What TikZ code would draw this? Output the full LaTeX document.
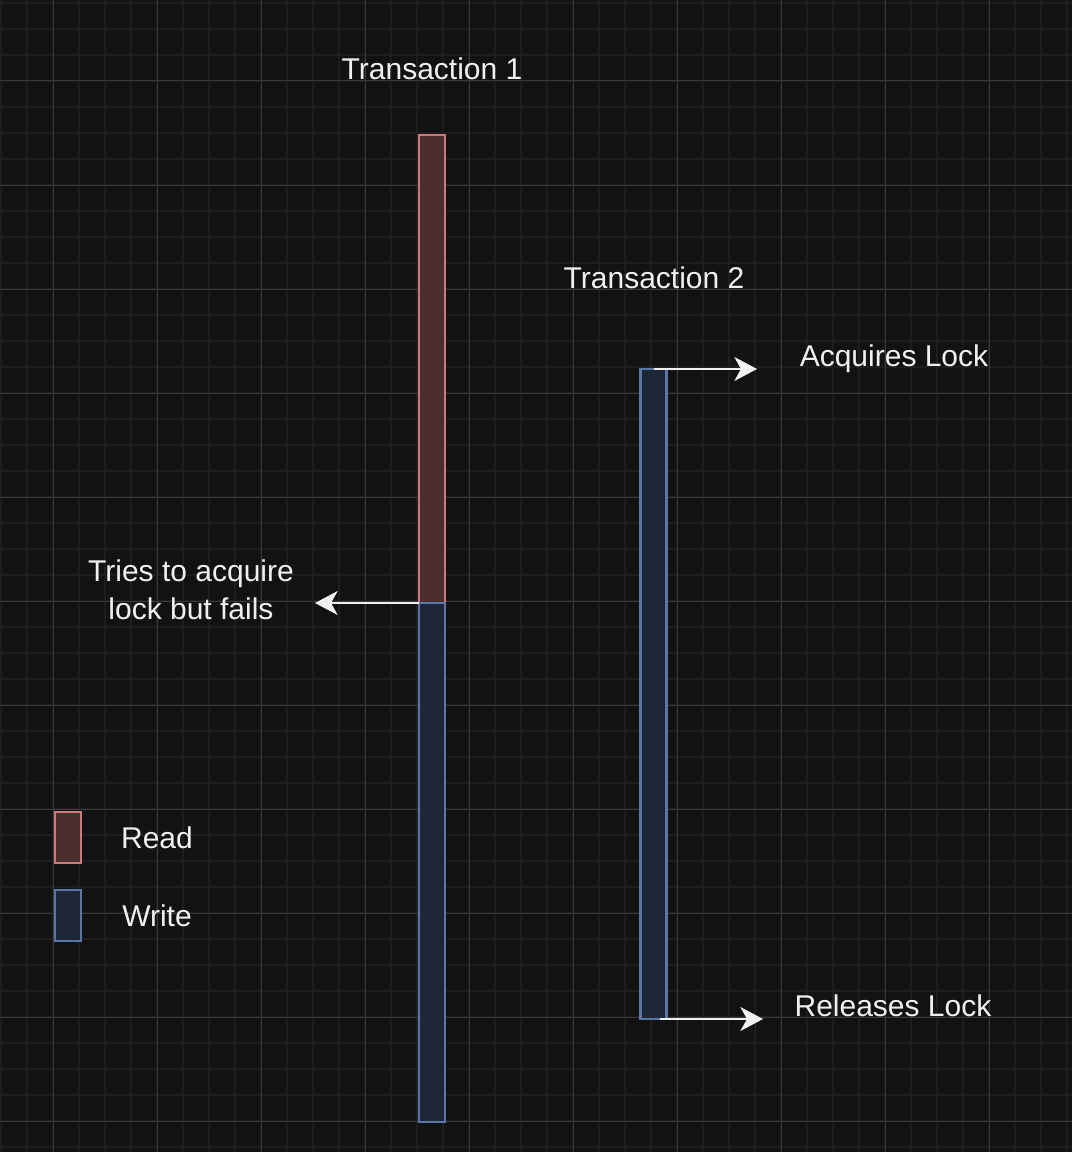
\documentclass[tikz,border=0pt]{standalone}
\usepackage{fontspec}
\setmainfont{Liberation Sans}
\usetikzlibrary{arrows.meta}
\definecolor{bgc}{HTML}{121212}
\definecolor{minorc}{HTML}{1D1D1D}
\definecolor{majorc}{HTML}{393939}
\definecolor{readfill}{HTML}{4B2E2E}
\definecolor{readline}{HTML}{C97B7A}
\definecolor{writefill}{HTML}{1E2639}
\definecolor{writeline}{HTML}{5B77A6}
\definecolor{txt}{HTML}{F0F0F0}
\tikzset{
  bar/.style={rectangle, inner sep=0pt, outer sep=0pt, line width=1.6pt, minimum width=19.5pt},
  readbar/.style={bar, draw=readline, fill=readfill},
  writebar/.style={bar, draw=writeline, fill=writefill},
  lbl/.style={text=txt, inner sep=0pt, font=\fontsize{22.5}{28.5}\selectfont},
  arr/.style={draw=txt, line width=1.5pt, -{Stealth[length=17pt, width=18pt, inset=5pt]}},
}
\begin{document}
\begin{tikzpicture}[x=0.75pt, y=-0.75pt]
\fill[bgc] (0,0) rectangle (1072,1152);
\useasboundingbox (0,0) rectangle (1072,1152);
% grid
\foreach \k in {0,...,41} \draw[minorc, line width=1.2pt] ({1+26*\k},0) -- ({1+26*\k},1152);
\foreach \k in {0,...,44} \draw[minorc, line width=1.2pt] (0,{3+26*\k}) -- (1072,{3+26*\k});
\foreach \k in {0,...,9} \draw[majorc, line width=0.75pt] ({53+104*\k},0) -- ({53+104*\k},1152);
\foreach \k in {0,...,10} \draw[majorc, line width=0.75pt] (0,{81+104*\k}) -- (1072,{81+104*\k});
% bars
\node[readbar, minimum height=351pt] (t1r) at (432,369) {};
\node[writebar, minimum height=389.25pt] (t1w) at (432,862.5) {};
\node[writebar, minimum height=487.5pt] (t2) at (653.5,694) {};
% legend
\node[readbar, minimum height=38.25pt] (legr) at (68,837.5) {};
\node[writebar, minimum height=38.25pt] (legw) at (68,915.5) {};
% labels
\node[lbl, anchor=base] (tx1) at (432,80) {Transaction 1};
\node[lbl, anchor=base] (tx2) at (654,288) {Transaction 2};
\node[lbl, anchor=base] (acq) at (894,366) {Acquires Lock};
\node[lbl, anchor=base] (rel) at (893,1016) {Releases Lock};
\node[lbl, align=center] (tries) at (191,590) {Tries to acquire\\lock but fails};
\node[lbl, anchor=base] (lr) at (157,848) {Read};
\node[lbl, anchor=base] (lw) at (157,926) {Write};
% arrow ends
\coordinate (acqend) at (757,369);
\coordinate (relend) at (763,1019);
\coordinate (triesend) at (315,603);
% arrows
\draw[arr] (t2.north) -- (acqend);
\draw[arr] ([xshift=5pt]t2.south) -- (relend);
\draw[arr] (t1r.south west) -- (triesend);
\end{tikzpicture}
\end{document}
